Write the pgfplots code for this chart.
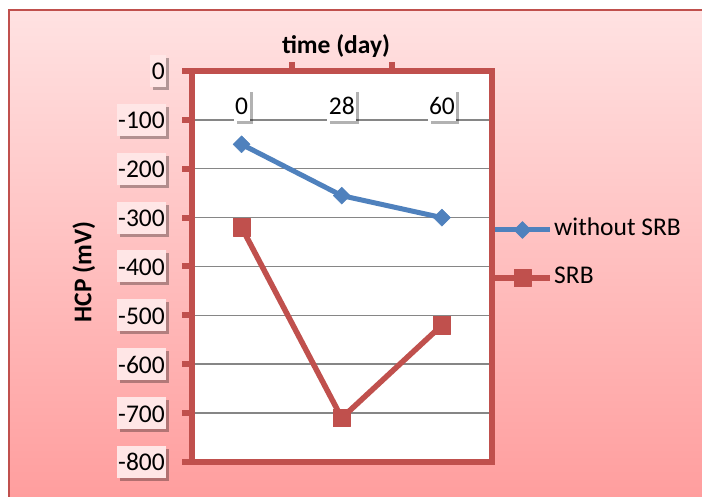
\documentclass[border=0pt]{standalone}
\usepackage{fontspec}
\setmainfont{Carlito}
\usepackage{pgfplots}
\pgfplotsset{compat=1.18}
\usetikzlibrary{shadows}
\definecolor{bgtop}{HTML}{FFE2E2}
\definecolor{bgbot}{HTML}{FF9E9E}
\definecolor{xred}{HTML}{C0504D}
\definecolor{xblue}{HTML}{4F81BD}
\definecolor{gridgray}{HTML}{868686}
\definecolor{lblfill}{HTML}{FFE6E6}
\tikzset{
  lblbox/.style={fill=#1, inner xsep=1.5bp, inner ysep=2bp, text height=23bp, text depth=5bp,
    drop shadow={shadow xshift=3bp, shadow yshift=-3bp, opacity=0.3, fill=black}}
}
\begin{document}
\begin{tikzpicture}[x=1bp,y=1bp,font=\fontsize{25.5bp}{30bp}\selectfont]
\useasboundingbox (0,0) rectangle (702,497);
\fill[white] (0,0) rectangle (702,497);
\shade[top color=bgtop, bottom color=bgbot] (9,0) rectangle (702,487);
\draw[xred, line width=1.5bp] (9,0) -- (9,487) -- (702,487);
\begin{axis}[
  name=ax,
  at={(191.5bp,35bp)}, anchor=south west, scale only axis,
  width=300.5bp, height=391bp,
  xmin=-0.5, xmax=2.5, ymin=-800, ymax=0,
  axis background/.style={fill=white},
  axis line style={xred, line width=6bp},
  every tick/.style={xred, line width=6bp},
  major tick length=9bp,
  tick align=outside,
  xtick={0.5,1.5}, xticklabels={},
  xtick pos=right, xticklabel pos=right,
  extra x ticks={0,1,2}, extra x tick labels={0,28,60},
  extra x tick style={tick style={draw=none}, xticklabel style={anchor=north, yshift=-27bp, lblbox=white}},
  ytick={0,-100,-200,-300,-400,-500,-600,-700,-800},
  yticklabels={0,-100,-200,-300,-400,-500,-600,-700,-800},
  ytick pos=left, yticklabel pos=left,
  yticklabel style={anchor=east, xshift=-16bp, lblbox=lblfill},
  ymajorgrids, grid style={gridgray, line width=1.5bp},
  xlabel={time (day)},
  xlabel style={font=\fontsize{25.5bp}{30bp}\selectfont\bfseries, at={(axis description cs:0.481,1)}, anchor=center, yshift=25bp},
  ylabel={HCP (mV)},
  ylabel style={font=\fontsize{25.5bp}{30bp}\selectfont\bfseries, at={(axis description cs:-0.358,0.486)}, anchor=center},
  legend style={at={(1.0,0.532)}, anchor=west, draw=none, fill=none, inner sep=0pt,
    row sep=21bp, column sep=0bp, font=\fontsize{25.5bp}{30bp}\selectfont,
    nodes={inner sep=1.5bp, text height=18bp, text depth=6bp}},
  legend cell align=left,
  legend image code/.code={\draw[#1, mark repeat=2, mark phase=2] plot coordinates {(0bp,0bp) (27.5bp,0bp) (55bp,0bp)};},
]
\addplot[xblue, line width=5bp, line join=round, mark=square*, mark size=6bp, mark options={rotate=45, solid, line width=0.5bp}]
  coordinates {(0,-150) (1,-255) (2,-300)};
\addlegendentry{without SRB}
\addplot[xred, line width=5.5bp, line join=round, mark=square*, mark size=8.7bp, mark options={solid, line width=0.5bp}]
  coordinates {(0,-320) (1,-710) (2,-520)};
\addlegendentry{SRB}
\end{axis}
\foreach \i in {0,...,8}{
  \draw[xred, line width=6bp] ([yshift=\i*48.875bp]ax.south west) -- ++(-9.5bp,0bp);
}
\end{tikzpicture}
\end{document}
